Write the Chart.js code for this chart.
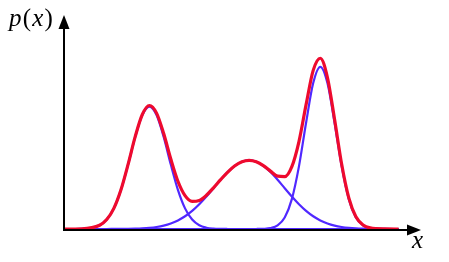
<!DOCTYPE html>
<html>
<head>
<meta charset="utf-8">
<script src="https://cdn.jsdelivr.net/npm/chart.js@4/dist/chart.umd.min.js"></script>
<style>
  html, body { margin: 0; padding: 0; background: #fff; }
  #wrap { position: relative; width: 449px; height: 262px; }
</style>
</head>
<body>
<div id="wrap"><canvas id="mixChart"></canvas></div>
<script>
// x positions shared by all curves
const xs = [0, 0.5, 1.0, 1.2, 1.4, 1.6, 1.8, 2.0, 2.2, 2.4, 2.6, 2.8, 3.0, 3.2, 3.4, 3.6, 3.8,
	4.0, 4.2, 4.4, 4.6, 4.8, 5.0, 5.2, 5.4, 5.6, 5.8, 6.0, 6.2, 6.4, 6.6, 6.8, 7.0, 7.2, 7.4,
	7.6, 7.8, 8.0, 8.2, 8.4, 8.6, 9.0, 9.4];

// the three components (blue)
const compLeft = [0, 0.0009, 0.0176, 0.0445, 0.0973, 0.1847, 0.304, 0.434, 0.537, 0.577, 0.537,
	0.434, 0.304, 0.1847, 0.0973, 0.0445, 0.0176, 0.0061, 0.0018, 0.0005, 0.0001, 0, 0, 0, 0, 0,
	0, 0, 0, 0, 0, 0, 0, 0, 0, 0, 0, 0, 0, 0, 0, 0, 0];
const compMiddle = [0, 0, 0.0001, 0.0001, 0.0002, 0.0004, 0.0008, 0.0016, 0.003, 0.0055, 0.0096,
	0.0161, 0.0261, 0.0404, 0.06, 0.0854, 0.1168, 0.1531, 0.1925, 0.2322, 0.2686, 0.2981, 0.3173,
	0.324, 0.3173, 0.2981, 0.2686, 0.2322, 0.1925, 0.1531, 0.1168, 0.0854, 0.06, 0.0404, 0.0261,
	0.0161, 0.0096, 0.0055, 0.003, 0.0016, 0.0008, 0.0002, 0];
const compRight = [0, 0, 0, 0, 0, 0, 0, 0, 0, 0, 0, 0, 0, 0, 0, 0, 0, 0, 0, 0, 0, 0, 0, 0,
	0.0001, 0.0009, 0.0043, 0.017, 0.0545, 0.141, 0.2955, 0.5012, 0.6883, 0.765, 0.6883, 0.5012,
	0.2955, 0.141, 0.0545, 0.017, 0.0043, 0.0001, 0];

// the mixture p(x) (red)
const mixture = [0, 0.0009, 0.0177, 0.0446, 0.0975, 0.1851, 0.3048, 0.4356, 0.54, 0.5825, 0.5466,
	0.4501, 0.3301, 0.2251, 0.1573, 0.1299, 0.1344, 0.1592, 0.1943, 0.2327, 0.2687, 0.2981, 0.3173,
	0.324, 0.3174, 0.299, 0.2729, 0.2492, 0.247, 0.2941, 0.4123, 0.5866, 0.7483, 0.8054, 0.7144,
	0.5173, 0.3051, 0.1465, 0.0575, 0.0186, 0.0051, 0.0003, 0];

const labelY = 'p(x)';
const labelX = 'x';

const RED = '#ee0a2e';
const BLUE = '#5028ff';

function toPoints(values) {
	return xs.map((x, i) => ({ x: x, y: values[i] }));
}

function curve(values, color, width) {
	return {
		data: toPoints(values),
		borderColor: color,
		borderWidth: width,
		pointRadius: 0,
		fill: false,
		cubicInterpolationMode: 'monotone'
	};
}

// black axes with arrow heads, and the two labels
const axesArrows = {
	id: 'axesArrows',
	afterDatasetsDraw(chart) {
		const ctx = chart.ctx;
		const area = chart.chartArea;
		const x0 = area.left;
		const y0 = area.bottom + 1;

		ctx.save();
		ctx.strokeStyle = '#000';
		ctx.fillStyle = '#000';
		ctx.lineWidth = 2;
		ctx.beginPath();
		ctx.moveTo(x0, y0 + 1);
		ctx.lineTo(x0, area.top + 10);
		ctx.moveTo(x0 - 1, y0);
		ctx.lineTo(area.right - 10, y0);
		ctx.stroke();

		ctx.beginPath();
		ctx.moveTo(x0, area.top - 2);
		ctx.lineTo(x0 - 5.5, area.top + 12);
		ctx.lineTo(x0 + 5.5, area.top + 12);
		ctx.closePath();
		ctx.fill();

		ctx.beginPath();
		ctx.moveTo(area.right + 1, y0);
		ctx.lineTo(area.right - 13, y0 - 5.5);
		ctx.lineTo(area.right - 13, y0 + 5.5);
		ctx.closePath();
		ctx.fill();

		// p(x) : italic letters, upright brackets
		ctx.textBaseline = 'alphabetic';
		ctx.textAlign = 'left';
		const italic = 'italic 25px "Liberation Serif", serif';
		const upright = '25px "Liberation Serif", serif';
		let cx = 9;
		const by = 26;
		for (const ch of labelY) {
			ctx.font = (ch === '(' || ch === ')') ? upright : italic;
			ctx.fillText(ch, cx, by);
			cx += ctx.measureText(ch).width + 1.2;
		}

		ctx.font = italic;
		ctx.fillText(labelX, area.right - 8, y0 + 18);
		ctx.restore();
	}
};

document.addEventListener('DOMContentLoaded', () => {
	new Chart(document.getElementById('mixChart'), {
		type: 'line',
		data: {
			datasets: [
				curve(mixture, RED, 3.2),
				curve(compLeft, BLUE, 2.2),
				curve(compMiddle, BLUE, 2.2),
				curve(compRight, BLUE, 2.2)
			]
		},
		options: {
			responsive: true,
			maintainAspectRatio: false,
			devicePixelRatio: 1,
			animation: false,
			layout: { padding: { left: 64, right: 29, top: 17, bottom: 33 } },
			plugins: {
				legend: { display: false },
				tooltip: { enabled: false }
			},
			scales: {
				x: { type: 'linear', min: 0, max: 10, display: false },
				y: { min: 0, max: 1, display: false }
			}
		},
		plugins: [axesArrows]
	});
});
</script>
</body>
</html>
